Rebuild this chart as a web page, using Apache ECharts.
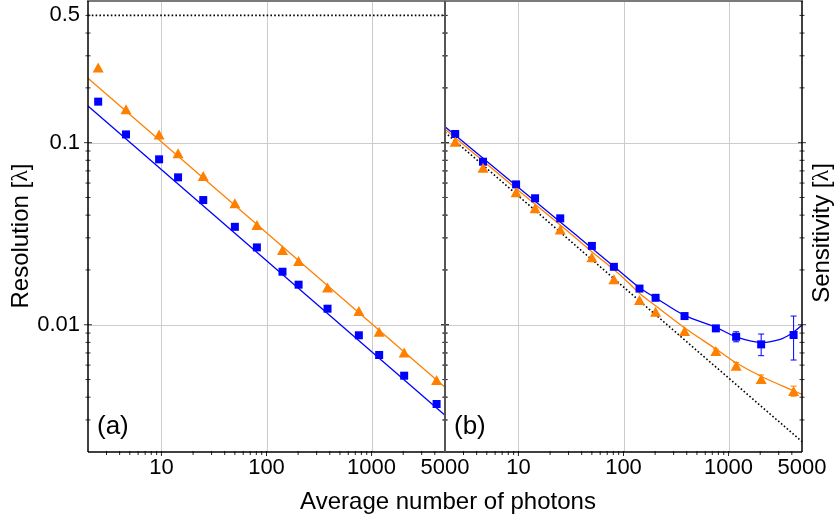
<!DOCTYPE html>
<html><head><meta charset="utf-8">
<script src="https://cdn.jsdelivr.net/npm/echarts@6/dist/echarts.min.js"></script>
<style>html,body{margin:0;padding:0;background:#fff}#c{width:839px;height:519px}</style>
</head><body><div id="c"></div>
<script>
// ---------- data ----------
const photons = [2.5, 4.6, 9.5, 14.4, 25, 50, 81, 142, 202, 381, 757, 1181, 2043, 4159];
// panel (a): resolution
const resolutionBlue   = [0.168, 0.111, 0.081, 0.0645, 0.0484, 0.0345, 0.0266, 0.01955, 0.0166, 0.01225, 0.00875, 0.00682, 0.00525, 0.00367];
const resolutionOrange = [0.259, 0.1526, 0.111, 0.0874, 0.0656, 0.0465, 0.0353, 0.0257, 0.0224, 0.0160, 0.0119, 0.00916, 0.00705, 0.00497];
const fitResX = [2, 5000];
const fitResBlue = [0.159, 0.00318];
const fitResOrange = [0.226, 0.00453];
const limitResX = [2, 5000];
const limitResY = [0.5, 0.5];
// panel (b): sensitivity
const sensitivityBlue   = [0.1116, 0.0786, 0.059, 0.0495, 0.0384, 0.0271, 0.0208, 0.0158, 0.01406, 0.01116, 0.00955, 0.00859, 0.0078, 0.00878];
const sensitivityOrange = [0.1013, 0.0729, 0.0534, 0.0436, 0.0334, 0.0235, 0.01776, 0.01367, 0.01179, 0.00923, 0.00717, 0.00595, 0.00503, 0.00432];
const sensBlueLow   = [null, null, null, null, null, null, null, null, null, null, 0.0092, 0.00806, 0.00676, 0.0064];
const sensBlueHigh  = [null, null, null, null, null, null, null, null, null, null, 0.0099, 0.00915, 0.00889, 0.01116];
const sensOrangeLow  = [null, null, null, null, null, null, null, null, null, null, 0.0070, 0.00575, 0.0048, 0.00405];
const sensOrangeHigh = [null, null, null, null, null, null, null, null, null, null, 0.00735, 0.0062, 0.0053, 0.0046];
const fitSensBlueX = [2, 10, 25, 50, 93, 142, 202, 381, 759, 1176, 2080, 3105, 4015, 5000];
const fitSensBlueY = [0.1224, 0.0568, 0.0367, 0.0263, 0.01955, 0.01597, 0.01407, 0.01126, 0.00968, 0.00859, 0.0080, 0.00832, 0.00898, 0.00996];
const fitSensOrangeX = [2, 10, 25, 50, 93, 142, 202, 381, 759, 1176, 2080, 4159, 5000];
const fitSensOrangeY = [0.1184, 0.0547, 0.0353, 0.0252, 0.01875, 0.0149, 0.0127, 0.00963, 0.00735, 0.00618, 0.00518, 0.00434, 0.00415];
const shotNoiseX = [2, 5000];
const shotNoiseY = [0.114, 0.00228];
// axes
const xRange = [2, 5000];
const yRange = [0.002, 0.6];
const xTickValues = [10, 100, 1000, 5000];
const xTickLabels = ['10', '100', '1000', '5000'];
const yTickValues = [0.5, 0.1, 0.01];
const yTickLabels = ['0.5', '0.1', '0.01'];
const xGridValues = [10, 100, 1000];
const yGridValues = [0.1, 0.01];
const xMinorTicks = [3, 4, 5, 6, 7, 8, 9, 20, 30, 40, 50, 60, 70, 80, 90, 200, 300, 400, 500, 600, 700, 800, 900, 2000, 3000, 4000];
const yMinorTicks = [0.003, 0.004, 0.005, 0.006, 0.007, 0.008, 0.009, 0.02, 0.03, 0.04, 0.05, 0.06, 0.07, 0.08, 0.09, 0.2, 0.3, 0.4, 0.5];

const BLUE = '#0000ff', ORANGE = '#ff8000';
const FONT = '"Liberation Sans", Arial, sans-serif';

const zip = (xs, ys) => xs.map((x, i) => [x, ys[i]]);
const errRows = (lo, hi) => photons.map((x, i) => lo[i] == null ? null : [x, lo[i], hi[i]]).filter(r => r);

function gridX(g) {
  return { type: 'custom', xAxisIndex: g, yAxisIndex: g, silent: true, z: 1,
    data: xGridValues.map(v => [v, yRange[0]]),
    renderItem: (p, api) => { const cs = p.coordSys; const x = Math.round(api.coord([api.value(0), yRange[0]])[0]) + 0.5;
      return { type: 'line', shape: { x1: x, y1: cs.y, x2: x, y2: cs.y + cs.height }, style: { stroke: '#cccccc', lineWidth: 1 } }; } };
}
function gridY(g) {
  return { type: 'custom', xAxisIndex: g, yAxisIndex: g, silent: true, z: 1,
    data: yGridValues.map(v => [xRange[0], v]),
    renderItem: (p, api) => { const cs = p.coordSys; const y = Math.round(api.coord([xRange[0], api.value(1)])[1]) + 0.5;
      return { type: 'line', shape: { x1: cs.x, y1: y, x2: cs.x + cs.width, y2: y }, style: { stroke: '#cccccc', lineWidth: 1 } }; } };
}
function ticksX(g) {
  const rows = xMinorTicks.map(v => [v, yRange[0], 0]).concat(xGridValues.map(v => [v, yRange[0], 1]));
  return { type: 'custom', xAxisIndex: g, yAxisIndex: g, silent: true, z: 5, data: rows,
    renderItem: (p, api) => { const cs = p.coordSys; const x = api.coord([api.value(0), yRange[0]])[0];
      const b = cs.y + cs.height; const L = api.value(2) ? 4 : 3;
      return { type: 'line', shape: { x1: x, y1: b - 1, x2: x, y2: b + L }, style: { stroke: '#222', lineWidth: 1 } }; } };
}
function ticksY(g) {
  const rows = yMinorTicks.map(v => [xRange[0], v, 0]).concat(yGridValues.map(v => [xRange[0], v, 1]));
  return { type: 'custom', xAxisIndex: g, yAxisIndex: g, silent: true, z: 5, data: rows,
    renderItem: (p, api) => { const cs = p.coordSys; const y = api.coord([xRange[0], api.value(1)])[1];
      const L = api.value(2) ? 4 : 2.5;
      return { type: 'group', children: [
        { type: 'line', shape: { x1: cs.x - L, y1: y, x2: cs.x + L, y2: y }, style: { stroke: '#333', lineWidth: 1 } },
        { type: 'line', shape: { x1: cs.x + cs.width - L, y1: y, x2: cs.x + cs.width + L, y2: y }, style: { stroke: '#333', lineWidth: 1 } }
      ] }; } };
}
function frame(g, leftColor, rightColor) {
  return { type: 'custom', xAxisIndex: g, yAxisIndex: g, silent: true, z: 6,
    data: [[xRange[0], yRange[0]]],
    renderItem: (p, api) => { const cs = p.coordSys; const l = cs.x, r = cs.x + cs.width, t = cs.y, b = cs.y + cs.height;
      return { type: 'group', children: [
        { type: 'line', shape: { x1: l - 1, y1: t, x2: r + 1, y2: t }, style: { stroke: '#7a7a7a', lineWidth: 2 } },
        { type: 'line', shape: { x1: l, y1: b, x2: r, y2: b }, style: { stroke: '#000', lineWidth: 1.5 } },
        { type: 'line', shape: { x1: l, y1: t, x2: l, y2: b }, style: { stroke: leftColor, lineWidth: leftColor === '#000' ? 1.5 : 2 } },
        { type: 'line', shape: { x1: r, y1: t, x2: r, y2: b }, style: { stroke: rightColor, lineWidth: rightColor === '#000' ? 1.5 : 2 } }
      ] }; } };
}
function labelsX(g) {
  return { type: 'custom', xAxisIndex: g, yAxisIndex: g, silent: true, z: 6,
    data: xTickValues.map((v, i) => [v, yRange[0], i]),
    renderItem: (p, api) => { const cs = p.coordSys; const x = api.coord([api.value(0), yRange[0]])[0];
      return { type: 'text', x: x, y: cs.y + cs.height + 16, style: { text: xTickLabels[api.value(2)], font: '22px ' + FONT, fill: '#000', align: 'center', verticalAlign: 'middle', textAlign: 'center', textVerticalAlign: 'middle' } }; } };
}
function labelsY(g) {
  return { type: 'custom', xAxisIndex: g, yAxisIndex: g, silent: true, z: 6,
    data: yTickValues.map((v, i) => [xRange[0], v, i]),
    renderItem: (p, api) => { const cs = p.coordSys; const y = api.coord([xRange[0], api.value(1)])[1];
      return { type: 'text', x: cs.x - 8, y: y, style: { text: yTickLabels[api.value(2)], font: '22px ' + FONT, fill: '#000', align: 'right', verticalAlign: 'middle', textAlign: 'right', textVerticalAlign: 'middle' } }; } };
}
function errorBars(g, rows, color) {
  return { type: 'custom', xAxisIndex: g, yAxisIndex: g, silent: true, z: 3, data: rows,
    encode: { x: 0, y: [1, 2] },
    renderItem: (p, api) => { const lo = api.coord([api.value(0), api.value(1)]); const hi = api.coord([api.value(0), api.value(2)]);
      const w = 3;
      return { type: 'group', children: [
        { type: 'line', shape: { x1: lo[0], y1: lo[1], x2: hi[0], y2: hi[1] }, style: { stroke: color, lineWidth: 1 } },
        { type: 'line', shape: { x1: lo[0] - w, y1: lo[1], x2: lo[0] + w, y2: lo[1] }, style: { stroke: color, lineWidth: 1 } },
        { type: 'line', shape: { x1: hi[0] - w, y1: hi[1], x2: hi[0] + w, y2: hi[1] }, style: { stroke: color, lineWidth: 1 } }
      ] }; } };
}
function line(g, data, color, extra) {
  return Object.assign({ type: 'line', xAxisIndex: g, yAxisIndex: g, data: data, showSymbol: false, symbol: 'none', silent: true, z: 2,
    lineStyle: { color: color, width: 1.3 } }, extra || {});
}
function pts(g, data, symbol, size, color) {
  return { type: 'scatter', xAxisIndex: g, yAxisIndex: g, data: data, symbol: symbol, symbolSize: size, silent: true, z: 4,
    itemStyle: { color: color, opacity: 1 } };
}
const dotted = { color: '#000', width: 1.6, type: [1.6, 2.2] };

const axisX = g => ({ type: 'log', logBase: 10, gridIndex: g, min: xRange[0], max: xRange[1], show: false });
const axisY = g => ({ type: 'log', logBase: 10, gridIndex: g, min: yRange[0], max: yRange[1], show: false });

const chart = echarts.init(document.getElementById('c'), null, { renderer: 'canvas' });
chart.setOption({
  animation: false,
  backgroundColor: '#fff',
  grid: [
    { left: 88, top: 1, width: 357, height: 451 },
    { left: 445, top: 1, width: 357, height: 451 }
  ],
  xAxis: [axisX(0), axisX(1)],
  yAxis: [axisY(0), axisY(1)],
  graphic: [
    { type: 'text', x: 21, y: 236, rotation: Math.PI / 2, style: { text: '{a|Resolution [}{b|λ}{a|]}', rich: { a: { font: '24px ' + FONT, fill: '#000' }, b: { font: '24px "Liberation Serif", serif', fill: '#000' } }, align: 'center', verticalAlign: 'middle', textAlign: 'center', textVerticalAlign: 'middle' } },
    { type: 'text', x: 822, y: 233, rotation: Math.PI / 2, style: { text: '{a|Sensitivity [}{b|λ}{a|]}', rich: { a: { font: '24px ' + FONT, fill: '#000' }, b: { font: '24px "Liberation Serif", serif', fill: '#000' } }, align: 'center', verticalAlign: 'middle', textAlign: 'center', textVerticalAlign: 'middle' } },
    { type: 'text', x: 448, y: 502, style: { text: 'Average number of photons', font: '24px ' + FONT, fill: '#000', align: 'center', verticalAlign: 'middle', textAlign: 'center', textVerticalAlign: 'middle' } },
    { type: 'text', x: 97, y: 427, style: { text: '(a)', font: '26px ' + FONT, fill: '#000', align: 'left', verticalAlign: 'middle', textAlign: 'left', textVerticalAlign: 'middle' } },
    { type: 'text', x: 454, y: 427, style: { text: '(b)', font: '26px ' + FONT, fill: '#000', align: 'left', verticalAlign: 'middle', textAlign: 'left', textVerticalAlign: 'middle' } }
  ],
  series: [
    gridX(0), gridY(0), gridX(1), gridY(1),
    // panel (a)
    line(0, zip(limitResX, limitResY), '#000', { lineStyle: dotted }),
    line(0, zip(fitResX, fitResOrange), ORANGE),
    line(0, zip(fitResX, fitResBlue), BLUE),
    pts(0, zip(photons, resolutionBlue), 'rect', 8, BLUE),
    pts(0, zip(photons, resolutionOrange), 'triangle', [11, 10], ORANGE),
    // panel (b)
    line(1, zip(shotNoiseX, shotNoiseY), '#000', { lineStyle: dotted }),
    line(1, zip(fitSensOrangeX, fitSensOrangeY), ORANGE, { smooth: 0.35 }),
    line(1, zip(fitSensBlueX, fitSensBlueY), BLUE, { smooth: 0.35 }),
    errorBars(1, errRows(sensOrangeLow, sensOrangeHigh), ORANGE),
    errorBars(1, errRows(sensBlueLow, sensBlueHigh), BLUE),
    pts(1, zip(photons, sensitivityBlue), 'rect', 8, BLUE),
    pts(1, zip(photons, sensitivityOrange), 'triangle', [11, 10], ORANGE),
    // frames, ticks, labels
    ticksX(0), ticksX(1), ticksY(0), ticksY(1),
    frame(0, '#000', '#555'), frame(1, '#555', '#000'),
    labelsX(0), labelsX(1), labelsY(0)
  ]
});
</script></body></html>
